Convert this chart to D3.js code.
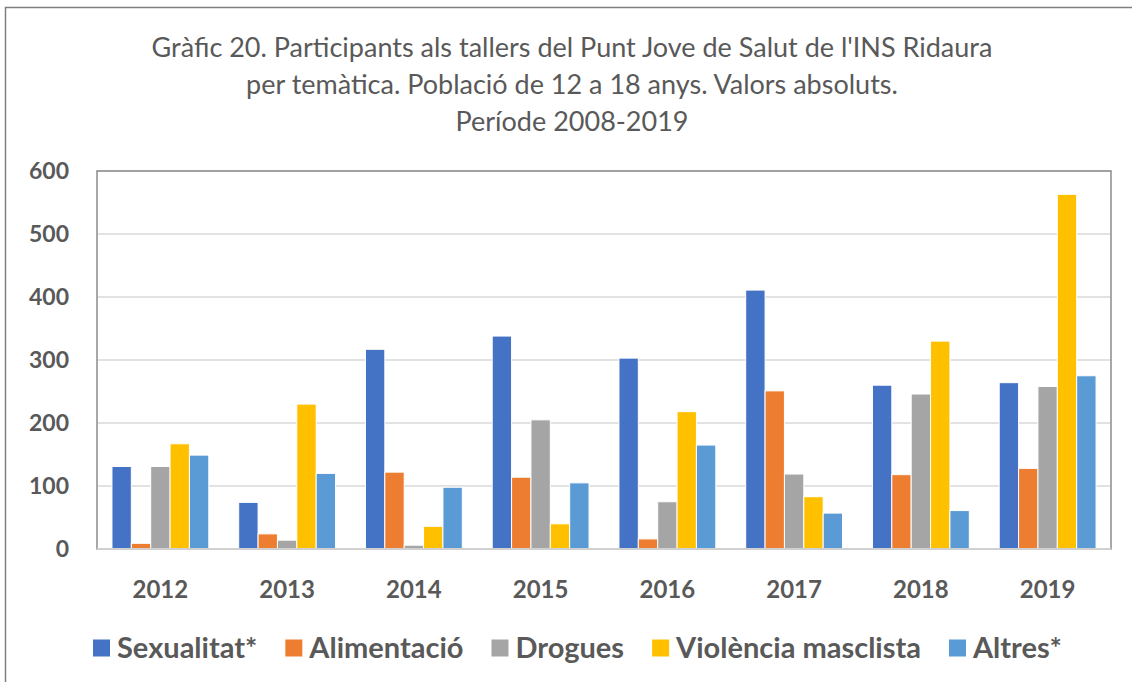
<!DOCTYPE html>
<html lang="ca">
<head>
<meta charset="utf-8">
<title>Gràfic 20</title>
<script src="https://cdn.jsdelivr.net/npm/d3@7"></script>
<style>
  body { margin: 0; background: #fff; }
  text { font-family: Lato, "Open Sans", sans-serif; fill: #595959; }
</style>
</head>
<body>
<script>
// data
var years = ["2012", "2013", "2014", "2015", "2016", "2017", "2018", "2019"];
var seriesNames = ["Sexualitat*", "Alimentació", "Drogues", "Violència masclista", "Altres*"];
var sexualitat  = [131, 74, 317, 338, 303, 411, 260, 264];
var alimentacio = [9, 24, 122, 114, 16, 251, 118, 128];
var drogues     = [131, 14, 6, 205, 75, 119, 246, 258];
var violencia   = [167, 230, 36, 40, 218, 83, 330, 563];
var altres      = [149, 120, 98, 105, 165, 57, 61, 275];
var yTicks = [0, 100, 200, 300, 400, 500, 600];
var titleLines = ["Gràfic 20. Participants als tallers del Punt Jove de Salut de l'INS Ridaura",
                  "per temàtica. Població de 12 a 18 anys. Valors absoluts.",
                  "Període 2008-2019"];
var colors = ["#4472C4", "#ED7D31", "#A5A5A5", "#FFC000", "#5B9BD5"];

var values = [sexualitat, alimentacio, drogues, violencia, altres];
var table = years.map(function(y, i) {
  return { year: y, vals: values.map(function(s, k) { return { k: k, v: s[i] }; }) };
});

var w = 1132, h = 682;
var plot = { left: 97, right: 1111, top: 171, bottom: 549 };

var svg = d3.select("body").append("svg")
  .attr("width", w).attr("height", h);

// outer frame
svg.append("rect")
  .attr("x", 5.5).attr("y", 7.5)
  .attr("width", w + 10).attr("height", h + 10)
  .attr("fill", "none").attr("stroke", "#7f7f7f").attr("stroke-width", 1.5);

// title
svg.append("g").selectAll("text")
  .data(titleLines).enter().append("text")
  .attr("x", 572)
  .attr("y", function(d, i) { return 57 + i * 37; })
  .attr("text-anchor", "middle")
  .attr("font-size", "27px")
  .text(function(d) { return d; });

var x0 = d3.scaleBand().domain(years)
  .range([plot.left, plot.right])
  .paddingInner(0.236).paddingOuter(0.118);
var x1 = d3.scaleBand().domain(d3.range(seriesNames.length))
  .range([0, x0.bandwidth()]);
var y = d3.scaleLinear().domain([0, 600]).range([plot.bottom, plot.top]);

// gridlines
svg.append("g").selectAll("line")
  .data(yTicks.filter(function(t) { return t > 0; })).enter().append("line")
  .attr("x1", plot.left).attr("x2", plot.right)
  .attr("y1", function(d) { return y(d); })
  .attr("y2", function(d) { return y(d); })
  .attr("stroke", "#d9d9d9").attr("stroke-width", 1.5);

// bars
svg.append("g").selectAll("g")
  .data(table).enter().append("g")
  .attr("transform", function(d) { return "translate(" + x0(d.year) + ",0)"; })
  .selectAll("rect")
  .data(function(d) { return d.vals; }).enter().append("rect")
  .attr("x", function(d) { return x1(d.k); })
  .attr("y", function(d) { return y(d.v); })
  .attr("width", x1.bandwidth())
  .attr("height", function(d) { return y(0) - y(d.v); })
  .attr("fill", function(d) { return colors[d.k]; })
  .attr("stroke", "#fff").attr("stroke-width", 1);

// plot frame
svg.append("rect")
  .attr("x", plot.left).attr("y", plot.top)
  .attr("width", plot.right - plot.left).attr("height", plot.bottom - plot.top)
  .attr("fill", "none").attr("stroke", "#8c8c8c").attr("stroke-width", 1.5);
svg.append("line")
  .attr("x1", plot.left).attr("x2", plot.right)
  .attr("y1", plot.bottom).attr("y2", plot.bottom)
  .attr("stroke", "#d0d0d0").attr("stroke-width", 2);

// y axis
var yAxis = svg.append("g")
  .attr("transform", "translate(" + (plot.left - 28) + ",0)")
  .call(d3.axisLeft(y).tickValues(yTicks).tickSize(0).tickPadding(0));
yAxis.select(".domain").remove();
yAxis.selectAll("text")
  .attr("font-size", "23px").attr("font-weight", "bold")
  .attr("font-family", "Lato, sans-serif").attr("fill", "#595959");

// x axis
var xAxis = svg.append("g")
  .attr("transform", "translate(0," + (plot.bottom + 32) + ")")
  .call(d3.axisBottom(x0).tickSize(0).tickPadding(0));
xAxis.select(".domain").remove();
xAxis.selectAll("text")
  .attr("font-size", "24px").attr("font-weight", "bold")
  .attr("font-family", "Lato, sans-serif").attr("fill", "#595959");

// legend
var legend = svg.append("g").attr("transform", "translate(0,648)");
var lx = 93;
seriesNames.forEach(function(name, k) {
  legend.append("rect")
    .attr("x", lx).attr("y", -8.5)
    .attr("width", 17).attr("height", 17)
    .attr("fill", colors[k]);
  var t = legend.append("text")
    .attr("x", lx + 24).attr("y", 0)
    .attr("dy", "0.35em")
    .attr("font-size", "29px").attr("font-weight", "bold")
    .text(name);
  lx += 24 + t.node().getComputedTextLength() + 28;
});
</script>
</body>
</html>
